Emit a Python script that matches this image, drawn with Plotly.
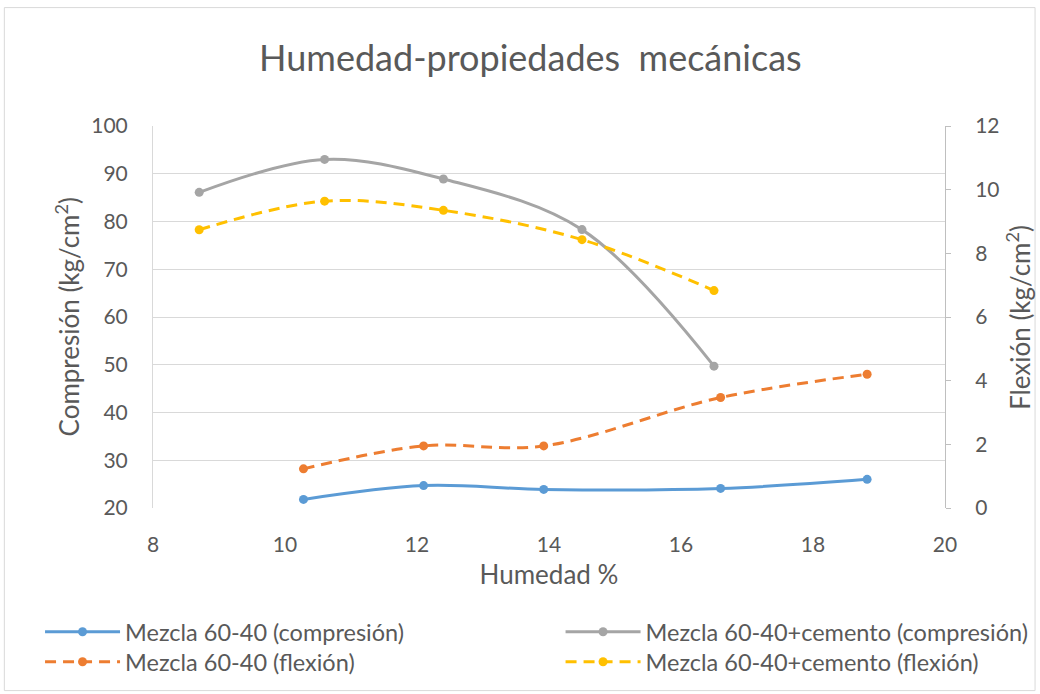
import plotly.graph_objects as go

# Humedad (%) de cada mezcla
humedad_mezcla = [10.28, 12.1, 13.92, 16.6, 18.82]
humedad_cemento = [8.7, 10.6, 12.4, 14.5, 16.5]

# Resistencias (kg/cm²)
compresion_mezcla = [21.8, 24.7, 23.9, 24.1, 26.0]
compresion_cemento = [86.1, 93.0, 88.9, 78.3, 49.7]
flexion_mezcla = [1.23, 1.95, 1.95, 3.47, 4.2]
flexion_cemento = [8.74, 9.64, 9.35, 8.43, 6.83]

series_names = [
    "Mezcla 60-40 (compresión)",
    "Mezcla 60-40+cemento (compresión)",
    "Mezcla 60-40 (flexión)",
    "Mezcla 60-40+cemento (flexión)",
]
y_titles = ["Compresión (kg/cm<sup>2</sup>)", "Flexión (kg/cm<sup>2</sup>)"]

BLUE, GRAY, ORANGE, YELLOW = "#5B9BD5", "#A5A5A5", "#ED7D31", "#FFC000"
TXT = "#595959"
FONT = "Lato"
DASH = "11px,7px"
TICK_SIZE = 21
AXIS_TITLE_SIZE = 26

fig = go.Figure()


def add(x, y, name, color, dash, yaxis, legend):
    fig.add_trace(go.Scatter(
        x=x, y=y, name=name, mode="lines+markers", yaxis=yaxis, legend=legend,
        line=dict(color=color, width=3, dash=dash, shape="spline", smoothing=1.0),
        marker=dict(color=color, size=9, symbol="circle"),
    ))


# one legend box per entry: two columns x two rows
add(humedad_mezcla, compresion_mezcla, series_names[0], BLUE, "solid", "y", "legend")
add(humedad_cemento, compresion_cemento, series_names[1], GRAY, "solid", "y", "legend2")
add(humedad_mezcla, flexion_mezcla, series_names[2], ORANGE, DASH, "y2", "legend3")
add(humedad_cemento, flexion_cemento, series_names[3], YELLOW, DASH, "y2", "legend4")

legend_style = dict(
    orientation="v", yanchor="top", xanchor="left",
    xref="container", yref="container",
    font=dict(family=FONT, size=23.5, color=TXT),
    bgcolor="rgba(0,0,0,0)", itemwidth=75,
)
col_x = [0.0385, 0.539]
row_y = [1 - 610 / 694, 1 - 640 / 694]

title_font = dict(family=FONT, size=AXIS_TITLE_SIZE, color=TXT)

fig.update_layout(
    width=1040, height=694,
    margin=dict(l=153, r=95, t=126, b=186, autoexpand=False),
    paper_bgcolor="white", plot_bgcolor="white",
    font=dict(family=FONT, color=TXT),
    showlegend=True,
    title=dict(
        text="Humedad-propiedades  mecánicas",
        x=0.51, xanchor="center", y=0.916, yanchor="middle",
        font=dict(family=FONT, size=36, color=TXT),
    ),
    xaxis=dict(
        range=[8, 20], dtick=2, tick0=8, showgrid=False, zeroline=False,
        showline=False, ticks="", ticklen=0, ticklabelstandoff=22,
        tickfont=dict(family=FONT, size=TICK_SIZE, color=TXT),
        title=dict(text="Humedad %", font=title_font, standoff=10),
    ),
    yaxis=dict(
        range=[20, 100], dtick=10, tick0=20, showgrid=True, gridcolor="#D9D9D9",
        gridwidth=1, zeroline=False, showline=True, linecolor="#D9D9D9",
        ticks="", ticklabelstandoff=20,
        tickfont=dict(family=FONT, size=TICK_SIZE, color=TXT),
    ),
    yaxis2=dict(
        range=[0, 12], dtick=2, tick0=0, overlaying="y", side="right",
        showgrid=False, zeroline=False, showline=True, linecolor="#BFBFBF",
        ticks="outside", ticklen=5, tickcolor="#BFBFBF", ticklabelstandoff=20,
        tickfont=dict(family=FONT, size=TICK_SIZE, color=TXT),
    ),
    legend=dict(x=col_x[0], y=row_y[0], **legend_style),
    legend2=dict(x=col_x[1], y=row_y[0], **legend_style),
    legend3=dict(x=col_x[0], y=row_y[1], **legend_style),
    legend4=dict(x=col_x[1], y=row_y[1], **legend_style),
    annotations=[
        dict(text=y_titles[0], xref="paper", yref="paper", x=-0.108, y=0.5,
             xanchor="center", yanchor="middle", textangle=-90, showarrow=False,
             font=title_font),
        dict(text=y_titles[1], xref="paper", yref="paper", x=1.092, y=0.5,
             xanchor="center", yanchor="middle", textangle=-90, showarrow=False,
             font=title_font),
    ],
    shapes=[dict(
        type="rect", xref="paper", yref="paper",
        x0=-0.1877, x1=1.1137, y0=-0.478, y1=1.310,
        line=dict(color="#D9D9D9", width=1), layer="below",
    )],
)

fig.write_html("out.html")
